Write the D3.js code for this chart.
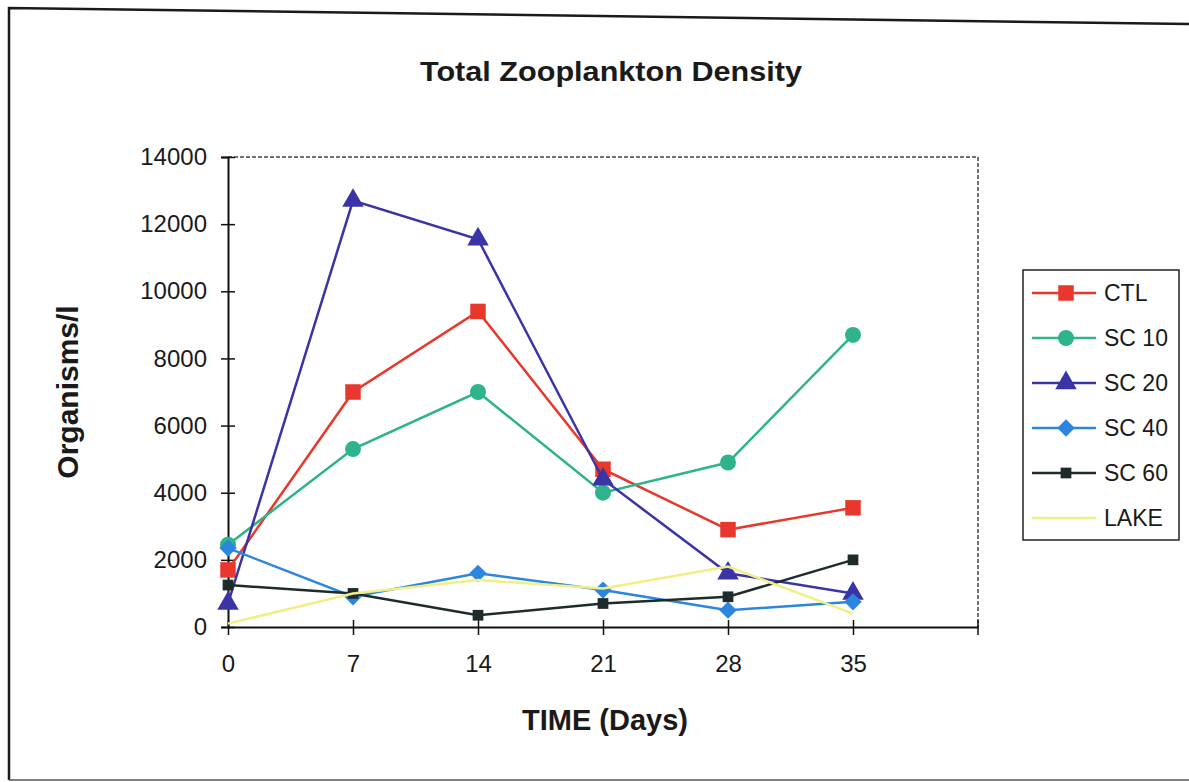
<!DOCTYPE html>
<html>
<head>
<meta charset="utf-8">
<script src="https://cdn.jsdelivr.net/npm/d3@7"></script>
<style>
  body { margin: 0; background: #fff; }
  svg { display: block; font-family: "Liberation Sans", Arial, sans-serif; }
</style>
</head>
<body>
<div id="chart"></div>
<script>
// chart data
const days = [0, 7, 14, 21, 28, 35];
const xTicks = [0, 7, 14, 21, 28, 35];
const yTicks = [0, 2000, 4000, 6000, 8000, 10000, 12000, 14000];

const ctl  = [1700, 7000, 9400, 4700, 2900, 3550];
const sc10 = [2450, 5300, 7000, 4000, 4900, 8700];
const sc20 = [700, 12700, 11550, 4400, 1600, 1000];
const sc40 = [2350, 900, 1600, 1100, 500, 750];
const sc60 = [1250, 1000, 350, 700, 900, 2000];
const lake = [100, 1000, 1400, 1150, 1800, 400];

const seriesNames = ["CTL", "SC 10", "SC 20", "SC 40", "SC 60", "LAKE"];

document.addEventListener('DOMContentLoaded', function() {
    const W = 1189, H = 782;
    const plot = {left: 228, right: 978, top: 157, bottom: 627};

    // rot = extra rotation for the marker (diamond is a turned square)
    const styles = [
        {color: "#e8372c", symbol: d3.symbolSquare, size: 240, rot: 0},
        {color: "#2fb38c", symbol: d3.symbolCircle, size: 200, rot: 0},
        {color: "#3a34a6", symbol: d3.symbolTriangle, size: 200, rot: 0},
        {color: "#2c86e0", symbol: d3.symbolSquare, size: 150, rot: 45},
        {color: "#1f2b2b", symbol: d3.symbolSquare, size: 115, rot: 0},
        {color: "#f2ee86", symbol: null, size: 0, rot: 0}
    ];
    const values = [ctl, sc10, sc20, sc40, sc60, lake];

    const svg = d3.select("#chart").append("svg")
        .attr("width", W)
        .attr("height", H);

    // outer frame
    svg.append("path")
        .attr("d", "M9,780 L9,8 L1189,24")
        .attr("fill", "none")
        .attr("stroke", "#1a1a1a")
        .attr("stroke-width", 2.5);
    svg.append("line")
        .attr("x1", 9).attr("x2", 1189).attr("y1", 780).attr("y2", 780)
        .attr("stroke", "#555").attr("stroke-width", 1.5);

    const x = d3.scaleLinear().domain([0, 42]).range([plot.left, plot.right]);
    const y = d3.scaleLinear().domain([0, 14000]).range([plot.bottom, plot.top]);

    // dashed plot border (top and right)
    svg.append("path")
        .attr("d", `M${plot.left},${plot.top} L${plot.right},${plot.top} L${plot.right},${plot.bottom}`)
        .attr("fill", "none")
        .attr("stroke", "#444")
        .attr("stroke-width", 1.5)
        .attr("stroke-dasharray", "4,2");

    // y axis
    const yAxis = svg.append("g")
        .attr("transform", `translate(${plot.left},0)`)
        .call(d3.axisLeft(y).tickValues(yTicks).tickSize(7).tickPadding(14).tickFormat(d3.format("d")));
    yAxis.select(".domain").attr("stroke", "#111").attr("stroke-width", 2);
    yAxis.selectAll(".tick line").attr("stroke", "#111").attr("stroke-width", 1.5).attr("x2", 7).attr("x1", -7);
    yAxis.selectAll(".tick text").attr("font-size", 24).attr("fill", "#1a1a1a").attr("x", -21);

    // x axis
    const xAxis = svg.append("g")
        .attr("transform", `translate(0,${plot.bottom})`)
        .call(d3.axisBottom(x).tickValues(xTicks).tickSize(7).tickPadding(18).tickSizeOuter(0));
    xAxis.select(".domain").attr("stroke", "#111").attr("stroke-width", 2);
    xAxis.selectAll(".tick line").attr("stroke", "#111").attr("stroke-width", 1.5).attr("y1", -7).attr("y2", 8);
    xAxis.selectAll(".tick text").attr("font-size", 24).attr("fill", "#1a1a1a").attr("y", 28);
    svg.append("line")
        .attr("x1", plot.right).attr("x2", plot.right)
        .attr("y1", plot.bottom - 7).attr("y2", plot.bottom + 8)
        .attr("stroke", "#111").attr("stroke-width", 1.5);

    // series
    const line = d3.line().x((d, i) => x(days[i])).y(d => y(d));
    values.forEach((vals, s) => {
        const st = styles[s];
        svg.append("path")
            .datum(vals)
            .attr("d", line)
            .attr("fill", "none")
            .attr("stroke", st.color)
            .attr("stroke-width", 2.5);
        if (st.symbol) {
            svg.selectAll(".pt" + s)
                .data(vals)
                .enter().append("path")
                .attr("class", "pt" + s)
                .attr("transform", (d, i) => `translate(${x(days[i])},${y(d)}) rotate(${st.rot})`)
                .attr("d", d3.symbol().type(st.symbol).size(st.size))
                .attr("fill", st.color);
        }
    });

    // legend
    const legend = svg.append("g");
    legend.append("rect")
        .attr("x", 1023).attr("y", 270)
        .attr("width", 156).attr("height", 270)
        .attr("fill", "#fff")
        .attr("stroke", "#222")
        .attr("stroke-width", 1.5);
    seriesNames.forEach((name, s) => {
        const st = styles[s];
        const ly = 293 + s * 45;
        legend.append("line")
            .attr("x1", 1032).attr("x2", 1096)
            .attr("y1", ly).attr("y2", ly)
            .attr("stroke", st.color)
            .attr("stroke-width", 2.5);
        if (st.symbol) {
            legend.append("path")
                .attr("transform", `translate(1066,${ly}) rotate(${st.rot})`)
                .attr("d", d3.symbol().type(st.symbol).size(st.size))
                .attr("fill", st.color);
        }
        legend.append("text")
            .attr("x", 1104).attr("y", ly)
            .attr("dy", "0.35em")
            .attr("font-size", 23)
            .attr("fill", "#1a1a1a")
            .text(name);
    });

    // titles
    svg.append("text")
        .attr("x", 611).attr("y", 81)
        .attr("text-anchor", "middle")
        .attr("font-size", 28)
        .attr("font-weight", "bold")
        .attr("fill", "#1a1a1a")
        .attr("textLength", 382)
        .attr("lengthAdjust", "spacingAndGlyphs")
        .text("Total Zooplankton Density");

    svg.append("text")
        .attr("x", 605).attr("y", 730)
        .attr("text-anchor", "middle")
        .attr("font-size", 29)
        .attr("font-weight", "bold")
        .attr("fill", "#1a1a1a")
        .text("TIME (Days)");

    svg.append("text")
        .attr("transform", "translate(78,392) rotate(-90)")
        .attr("text-anchor", "middle")
        .attr("font-size", 30)
        .attr("font-weight", "bold")
        .attr("fill", "#1a1a1a")
        .text("Organisms/l");
});
</script>
</body>
</html>
